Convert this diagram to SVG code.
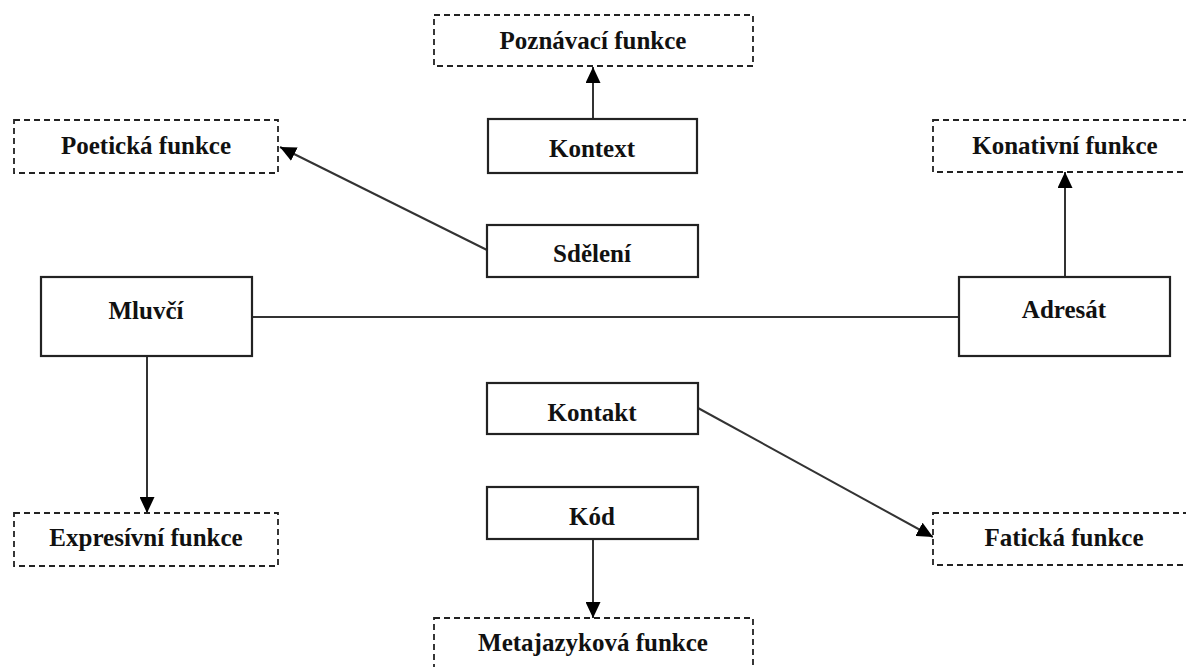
<svg xmlns="http://www.w3.org/2000/svg" width="1186" height="667" viewBox="0 0 1186 667">
<style>
.solid{fill:#fff;stroke:#222;stroke-width:2.2}
.dash{fill:#fff;stroke:#222;stroke-width:1.8;stroke-dasharray:6 4}
.t{font-family:"Liberation Serif","Times New Roman",serif;font-weight:bold;font-size:25px;fill:#111;text-anchor:middle}
.c{fill:none;stroke:#333;stroke-width:2}
</style>
<defs>
<marker id="ah" viewBox="0 0 16 15" refX="16" refY="7.5" markerWidth="16" markerHeight="15" markerUnits="userSpaceOnUse" orient="auto">
<path d="M0,0 L16,7.5 L0,15 z" fill="#000"/>
</marker>
</defs>
<rect width="1186" height="667" fill="#fff"/>
<g id="connectors">
<line class="c" x1="593" y1="119" x2="593" y2="67" marker-end="url(#ah)"/>
<line class="c" x1="487" y1="250" x2="280" y2="147" marker-end="url(#ah)"/>
<line class="c" x1="252" y1="317" x2="959" y2="317"/>
<line class="c" x1="1065" y1="277" x2="1065" y2="172" marker-end="url(#ah)"/>
<line class="c" x1="147" y1="356" x2="147" y2="513" marker-end="url(#ah)"/>
<line class="c" x1="698" y1="408" x2="933" y2="537" marker-end="url(#ah)"/>
<line class="c" x1="593" y1="539" x2="593" y2="618" marker-end="url(#ah)"/>
</g>
<g id="poznavaci"><rect class="dash" x="434" y="15" width="319" height="51"/><text class="t" x="593" y="49">Poznávací funkce</text></g>
<g id="kontext"><rect class="solid" x="488" y="119" width="209" height="54"/><text class="t" x="592" y="157">Kontext</text></g>
<g id="poeticka"><rect class="dash" x="14" y="120" width="264" height="53"/><text class="t" x="146" y="154">Poetická funkce</text></g>
<g id="konativni"><rect class="dash" x="933" y="120" width="264" height="52"/><text class="t" x="1065" y="154">Konativní funkce</text></g>
<g id="sdeleni"><rect class="solid" x="487" y="225" width="211" height="52"/><text class="t" x="592" y="262">Sdělení</text></g>
<g id="mluvci"><rect class="solid" x="41" y="277" width="211" height="79"/><text class="t" x="146" y="319">Mluvčí</text></g>
<g id="adresat"><rect class="solid" x="959" y="277" width="211" height="79"/><text class="t" x="1064" y="318">Adresát</text></g>
<g id="kontakt"><rect class="solid" x="487" y="383" width="211" height="51"/><text class="t" x="592" y="421">Kontakt</text></g>
<g id="kod"><rect class="solid" x="487" y="487" width="211" height="52"/><text class="t" x="592" y="525">Kód</text></g>
<g id="expresivni"><rect class="dash" x="14" y="513" width="264" height="53"/><text class="t" x="146" y="546">Expresívní funkce</text></g>
<g id="faticka"><rect class="dash" x="933" y="513" width="264" height="52"/><text class="t" x="1064" y="546">Fatická funkce</text></g>
<g id="metajazykova"><rect class="dash" x="434" y="618" width="319" height="52"/><text class="t" x="593" y="651">Metajazyková funkce</text></g>
</svg>
